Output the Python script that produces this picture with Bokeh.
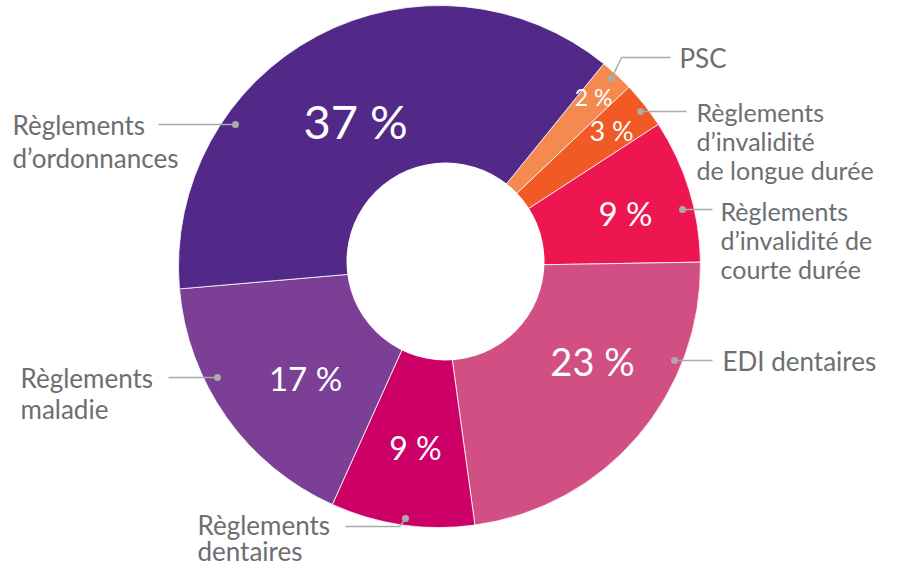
import math
from bokeh.plotting import figure
from bokeh.models import Range1d, ColumnDataSource
from bokeh.core.properties import value
from bokeh.embed import file_html
from bokeh.resources import INLINE

# ---- data (clockwise from the top-right) ----
categories = ["PSC",
              "Règlements d’invalidité de longue durée",
              "Règlements d’invalidité de courte durée",
              "EDI dentaires",
              "Règlements dentaires",
              "Règlements maladie",
              "Règlements d’ordonnances"]
values = [2.1, 2.9, 8.9, 23.1, 8.9, 16.9, 37.2]
pct_labels = ["2 %", "3 %", "9 %", "23 %", "9 %", "17 %", "37 %"]
colors = ["#F58A50", "#F15A24", "#EE1651", "#D14F82", "#CC0066", "#7B4096", "#522888"]

# ---- layout (screen pixel coordinates, y measured from top) ----
W, H = 881, 566
def Y(py):
    return H - py

FONT = "Lato"
CX, CY, R_OUT = 439, 266, 261
ICX, ICY, R_IN = 445, 261, 99
START_CW = 39.0  # degrees clockwise from 12 o'clock where the first slice starts

pct_pos = [(593, 96, 23), (611, 130, 27), (625, 212, 33), (592, 360, 38),
           (415, 447, 32), (305, 377, 33), (355, 120, 47)]

# leader lines: list of polyline points (first = dot)
leaders = [
    [(611, 78), (621, 57), (670, 57)],
    [(640, 111), (686, 111)],
    [(682, 209), (712, 209)],
    [(674, 360), (712, 360)],
    [(405, 518), (399, 526), (345, 526)],
    [(217, 377), (168, 377)],
    [(235, 124), (158, 124)],
]
# (x, font size, [(y, text), ...])
label_lines = [
    (679, 26, [(57, "PSC")]),
    (696, 25, [(111, "Règlements"), (140, "d’invalidité"), (169, "de longue durée")]),
    (720, 25, [(210, "Règlements"), (239, "d’invalidité de"), (268, "courte durée")]),
    (722, 26, [(360, "EDI dentaires")]),
    (197, 26, [(524, "Règlements"), (550, "dentaires")]),
    (20, 26, [(377, "Règlements"), (408, "maladie")]),
    (12, 26, [(124, "Règlements"), (157, "d’ordonnances")]),
]

p = figure(width=W, height=H, output_backend="svg", toolbar_location=None,
           x_range=Range1d(0, W), y_range=Range1d(0, H),
           min_border=0, min_border_left=0, min_border_right=0,
           min_border_top=0, min_border_bottom=0)
p.axis.visible = False
p.grid.visible = False
p.outline_line_color = None
p.background_fill_color = "white"

total = sum(values)
starts, ends = [], []
cum = 0.0
for v in values:
    a0 = math.radians(90 - START_CW - 360 * cum / total)
    cum += v
    a1 = math.radians(90 - START_CW - 360 * cum / total)
    starts.append(a0)
    ends.append(a1)

src = ColumnDataSource(dict(cat=categories, val=values, start=starts, end=ends, color=colors,
                            x=[CX] * len(values), y=[Y(CY)] * len(values)))
p.wedge(x="x", y="y", radius=R_OUT, start_angle="start", end_angle="end",
        direction="clock", fill_color="color", line_color="white", line_width=0.8,
        source=src)
p.scatter(x=[ICX], y=[Y(ICY)], size=2 * R_IN, marker="circle",
          fill_color="white", line_color=None)

# percentage labels
for (px, py, fs), t in zip(pct_pos, pct_labels):
    p.text(x=[px], y=[Y(py)], text=[t], text_color="white",
           text_font=value(FONT), text_font_size=f"{fs}px",
           text_align="center", text_baseline="middle")

# leaders
for pts in leaders:
    p.line(x=[q[0] for q in pts], y=[Y(q[1]) for q in pts], line_color="#ABABAB", line_width=1.5)
    p.scatter(x=[pts[0][0]], y=[Y(pts[0][1])], size=7, marker="circle",
              fill_color="#ABABAB", line_color=None)

# category labels
for lx, fs, lines in label_lines:
    for ly, t in lines:
        p.text(x=[lx], y=[Y(ly)], text=[t], text_color="#6D6E71",
               text_font=value(FONT), text_font_size=f"{fs}px",
               text_align="left", text_baseline="middle")

open("out.html", "w").write(file_html(p, INLINE))
